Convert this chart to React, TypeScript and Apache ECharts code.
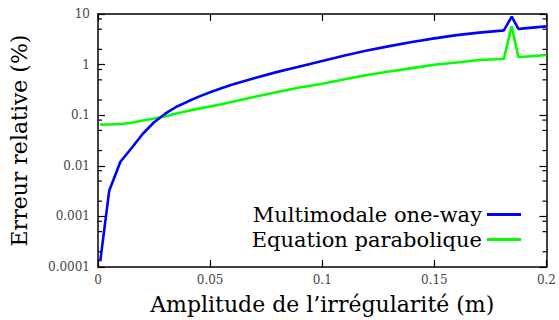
import React, { useEffect, useRef } from "react";
import * as echarts from "echarts";

const amplitudes = [0.001, 0.005, 0.01, 0.015, 0.02, 0.025, 0.03, 0.035, 0.04, 0.045, 0.05, 0.055, 0.06, 0.07, 0.08, 0.09, 0.1, 0.11, 0.12, 0.13, 0.14, 0.15, 0.16, 0.17, 0.18, 0.181, 0.1845, 0.1875, 0.19, 0.2];
const multimodal = [0.00013, 0.0032, 0.012, 0.0225, 0.043, 0.0726, 0.107, 0.147, 0.186, 0.233, 0.284, 0.34, 0.405, 0.546, 0.718, 0.92, 1.18, 1.52, 1.9, 2.32, 2.8, 3.3, 3.82, 4.28, 4.7, 4.75, 8.9, 5.07, 5.2, 5.7];
const parabolic = [0.065, 0.0655, 0.067, 0.071, 0.0785, 0.0863, 0.0955, 0.108, 0.121, 0.135, 0.149, 0.165, 0.184, 0.231, 0.288, 0.353, 0.419, 0.513, 0.621, 0.733, 0.853, 0.99, 1.1, 1.23, 1.29, 1.3, 5.7, 1.4, 1.43, 1.55];

const xTickLabels = ["0", "0.05", "0.1", "0.15", "0.2"];
const yTickLabels = ["0.0001", "0.001", "0.01", "0.1", "1", "10"];
const yMinorTicks = [0.0002, 0.0005, 0.0008, 0.002, 0.005, 0.008, 0.02, 0.05, 0.08, 0.2, 0.5, 0.8, 2, 5, 8];

const SERIF = "'DejaVu Serif', 'Liberation Serif', serif";

export default function App() {
  const ref = useRef<HTMLDivElement>(null);
  useEffect(() => {
    if (!ref.current) return;
    const chart = echarts.init(ref.current, null, { renderer: "svg" });
    const xFmt = (v: number) => {
      const i = Math.round(v / 0.05);
      return xTickLabels[i] ?? "";
    };
    const yFmt = (v: number) => {
      const i = Math.round(Math.log10(v)) + 4;
      return yTickLabels[i] ?? "";
    };
    const tickStyle = { color: "#000", width: 1.2 };
    const axisLine = { show: true, onZero: false, lineStyle: { color: "#000", width: 1.5 } };
    const axisTick = { show: true, inside: true, length: 7, lineStyle: tickStyle };
    chart.setOption({
      animation: false,
      backgroundColor: "#fff",
      grid: { left: 98, right: 10, top: 14, bottom: 47, show: false },
      legend: {
        data: ["Multimodale one-way", "Equation parabolique"],
        orient: "vertical",
        align: "right",
        right: 33,
        top: 199,
        itemWidth: 34,
        itemHeight: 3,
        itemGap: 4,
        icon: "rect",
        textStyle: { fontFamily: SERIF, fontSize: 21, color: "#000" },
      },
      xAxis: [
        {
          type: "value",
          min: 0,
          max: 0.2,
          interval: 0.05,
          position: "bottom",
          name: "Amplitude de l\u2019irrégularité (m)",
          nameLocation: "middle",
          nameGap: 26,
          nameTextStyle: { fontFamily: SERIF, fontSize: 22, color: "#000" },
          axisLine,
          axisTick,
          axisLabel: { formatter: xFmt, fontFamily: SERIF, fontSize: 12, color: "#444", margin: 7 },
          splitLine: { show: false },
        },
        {
          type: "value",
          min: 0,
          max: 0.2,
          interval: 0.05,
          position: "top",
          axisLine,
          axisTick,
          axisLabel: { show: false },
          splitLine: { show: false },
        },
      ],
      yAxis: [
        {
          type: "log",
          logBase: 10,
          min: 0.0001,
          max: 10,
          position: "left",
          name: "Erreur relative (%)",
          nameLocation: "middle",
          nameGap: 68,
          nameTextStyle: { fontFamily: SERIF, fontSize: 22, color: "#000" },
          axisLine,
          axisTick,
          axisLabel: { formatter: yFmt, fontFamily: SERIF, fontSize: 12, color: "#444", margin: 8 },
          splitLine: { show: false },
        },
        {
          type: "log",
          logBase: 10,
          min: 0.0001,
          max: 10,
          position: "right",
          axisLine,
          axisTick,
          axisLabel: { show: false },
          splitLine: { show: false },
        },
      ],
      series: [
        {
          name: "Minor ticks",
          type: "custom",
          silent: true,
          clip: false,
          z: 10,
          data: yMinorTicks.map((v) => [0.1, v]),
          encode: { x: 0, y: 1 },
          renderItem: (params: any, api: any) => {
            const v = api.value(1);
            const a = api.coord([0, v]);
            const b = api.coord([0.2, v]);
            return {
              type: "group",
              children: [
                { type: "line", shape: { x1: a[0], y1: a[1], x2: a[0] + 4, y2: a[1] }, style: { stroke: "#000", lineWidth: 1.2 } },
                { type: "line", shape: { x1: b[0], y1: b[1], x2: b[0] - 4, y2: b[1] }, style: { stroke: "#000", lineWidth: 1.2 } },
              ],
            };
          },
        },
        {
          name: "Multimodale one-way",
          type: "line",
          data: amplitudes.map((x, i) => [x, multimodal[i]]),
          showSymbol: false,
          symbol: "none",
          lineStyle: { color: "#0000ff", width: 2.6 },
          itemStyle: { color: "#0000ff" },
          z: 3,
        },
        {
          name: "Equation parabolique",
          type: "line",
          data: amplitudes.map((x, i) => [x, parabolic[i]]),
          showSymbol: false,
          symbol: "none",
          lineStyle: { color: "#00ff00", width: 2.6 },
          itemStyle: { color: "#00ff00" },
          z: 2,
        },
      ],
    });
    return () => chart.dispose();
  }, []);
  return <div ref={ref} style={{ width: 559, height: 320, position: "absolute", left: 0, top: 0 }} />;
}
